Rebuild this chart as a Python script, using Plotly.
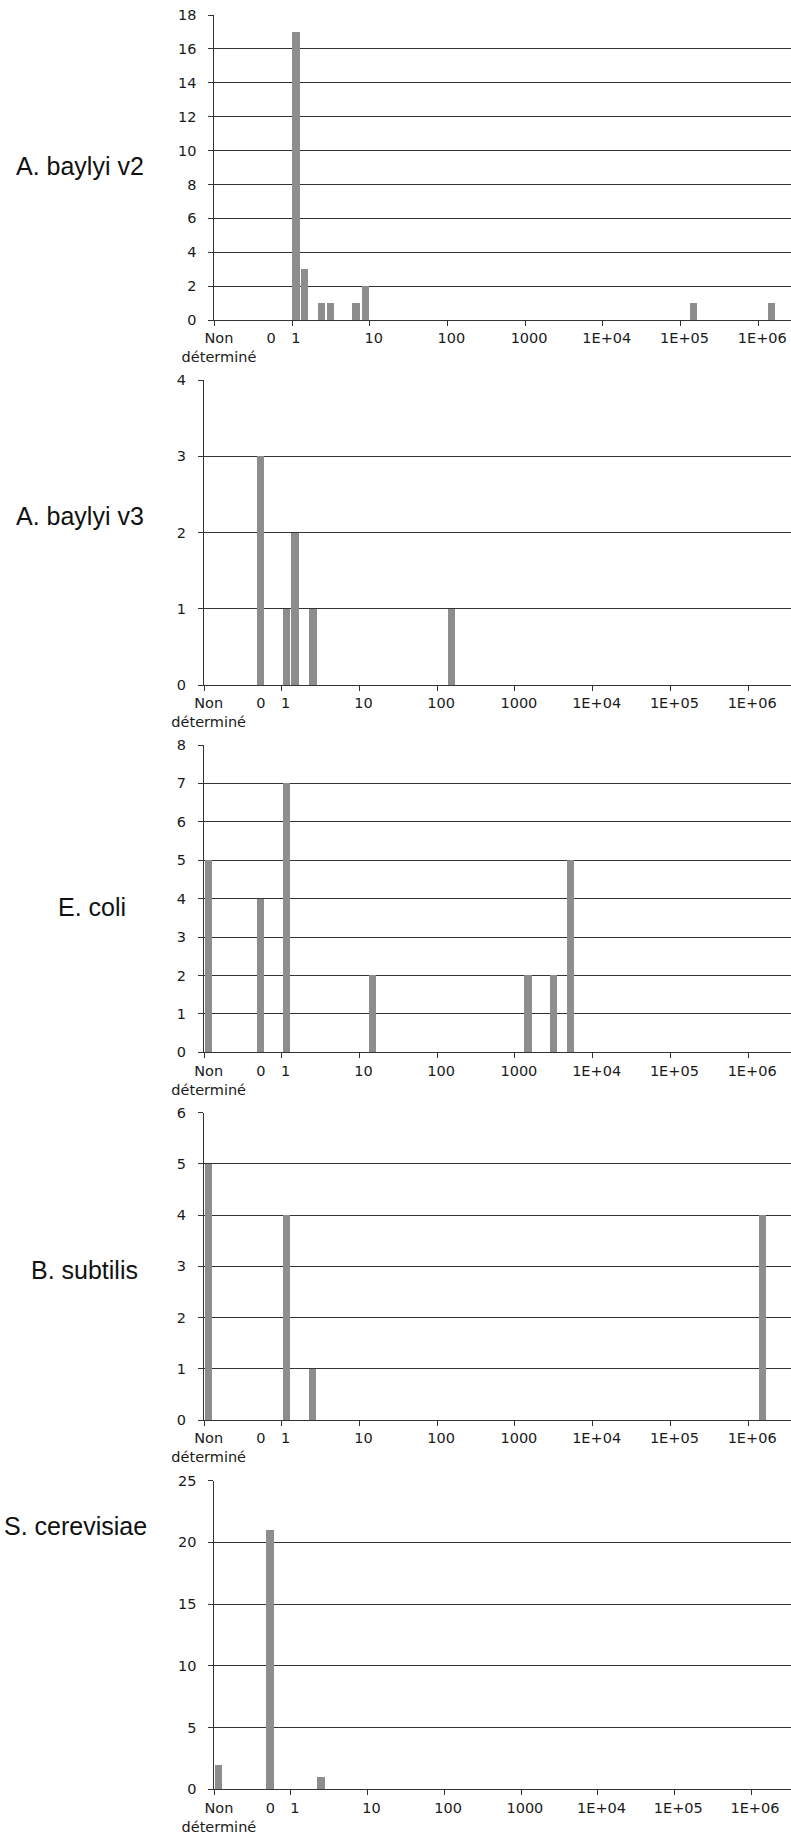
import plotly.graph_objects as go

# ---------------- data ----------------
species = ["A. baylyi v2", "A. baylyi v3", "E. coli", "B. subtilis", "S. cerevisiae"]

# x tick labels (category labels) and their positions on the log10 axis
x_tick_text = ["Non<br>déterminé", "0", "1", "10", "100", "1000", "1E+04", "1E+05", "1E+06"]
x_label_pos = [-0.94, -0.27, 0.05, 1.05, 2.05, 3.05, 4.05, 5.05, 6.05]
x_tick_marks = [-1, 0, 1, 2, 3, 4, 5, 6]

# bins (log10 position of each bar) and counts, per species
ab2_bins = [0.055, 0.165, 0.385, 0.495, 0.825, 0.95, 5.17, 6.17]
ab2_counts = [17, 3, 1, 1, 1, 2, 1, 1]

ab3_bins = [-0.27, 0.058, 0.172, 0.40, 2.185]
ab3_counts = [3, 1, 2, 1, 1]

eco_bins = [-0.942, -0.27, 0.058, 1.17, 3.167, 3.495, 3.717]
eco_counts = [5, 4, 7, 2, 2, 2, 5]

bsu_bins = [-0.942, 0.058, 0.395, 6.185]
bsu_counts = [5, 4, 1, 4]

sce_bins = [-0.941, -0.27, 0.395]
sce_counts = [2, 21, 1]

y_max = [18, 4, 8, 6, 25]
y_step = [2, 1, 1, 1, 5]

# ---------------- layout geometry ----------------
W, H = 791, 1834
panels = [
    dict(bins=ab2_bins, counts=ab2_counts, left=214.3, top=15, bottom=320, xmax=6.42, label_y=166, label_x=14),
    dict(bins=ab3_bins, counts=ab3_counts, left=204, top=380, bottom=685, xmax=6.55, label_y=516, label_x=14),
    dict(bins=eco_bins, counts=eco_counts, left=204, top=745, bottom=1052.3, xmax=6.55, label_y=907, label_x=56),
    dict(bins=bsu_bins, counts=bsu_counts, left=204, top=1112.7, bottom=1420, xmax=6.55, label_y=1270, label_x=29),
    dict(bins=sce_bins, counts=sce_counts, left=214.3, top=1480.7, bottom=1789.3, xmax=6.52, label_y=1526, label_x=2),
]

bar_color = "#8d8d8d"
grid_color = "#333333"
axis_color = "#333333"
tick_font = dict(family="DejaVu Sans", size=14.5, color="#1a1a1a")

fig = go.Figure()
layout = dict(
    width=W, height=H,
    margin=dict(l=0, r=0, t=0, b=0, pad=0),
    paper_bgcolor="white", plot_bgcolor="white",
    showlegend=False, bargap=0,
    annotations=[],
)

for i, p in enumerate(panels):
    k = "" if i == 0 else str(i + 1)
    fig.add_trace(go.Bar(
        x=p["bins"], y=p["counts"], width=0.094,
        marker=dict(color=bar_color, line=dict(width=0)),
        xaxis="x" + k, yaxis="y" + k, hoverinfo="x+y",
    ))
    layout["xaxis" + k] = dict(
        domain=[p["left"] / W, 1],
        range=[-1, p["xmax"]],
        anchor="y" + k, automargin=False,
        tickmode="array", tickvals=x_label_pos, ticktext=x_tick_text,
        ticks="outside", ticklen=5, tickcolor="rgba(0,0,0,0)",
        minor=dict(tickmode="array", tickvals=x_tick_marks, ticks="outside",
                   ticklen=5, tickcolor=axis_color, tickwidth=1, showgrid=False),
        showgrid=False, zeroline=False,
        showline=True, linecolor=axis_color, linewidth=1,
        tickfont=tick_font, tickangle=0, fixedrange=True,
    )
    layout["yaxis" + k] = dict(
        domain=[1 - p["bottom"] / H, 1 - p["top"] / H],
        range=[0, y_max[i]],
        anchor="x" + k, automargin=False,
        tickmode="linear", tick0=0, dtick=y_step[i],
        ticks="outside", ticklen=5, tickcolor=axis_color, tickwidth=1,
        showgrid=True, gridcolor=grid_color, gridwidth=1,
        zeroline=False, showline=True, linecolor=axis_color, linewidth=1,
        tickfont=tick_font, ticklabelstandoff=9, fixedrange=True,
    )
    layout["annotations"].append(dict(
        text=species[i], xref="paper", yref="paper",
        x=p["label_x"] / W, y=1 - p["label_y"] / H,
        xanchor="left", yanchor="middle", showarrow=False,
        font=dict(family="Liberation Sans, Arial, sans-serif", size=25, color="#111111"),
    ))

fig.update_layout(**layout)
fig.write_html("out.html", config={"displayModeBar": False},
               post_script="document.body.style.margin='0';")
